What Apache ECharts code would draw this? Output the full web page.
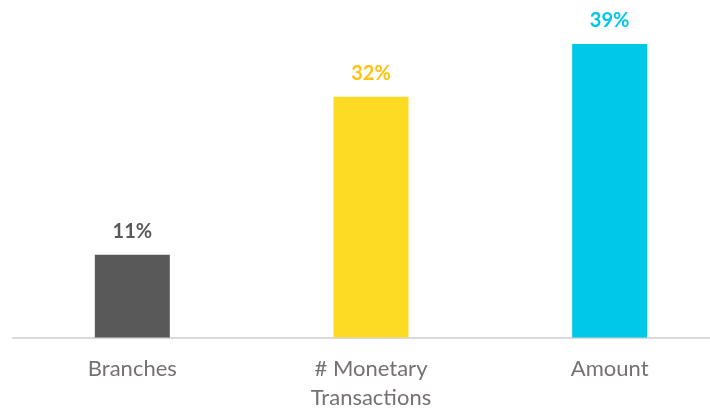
<!DOCTYPE html>
<html>
<head>
<meta charset="utf-8">
<script src="https://cdn.jsdelivr.net/npm/echarts@6/dist/echarts.min.js"></script>
<style>
  html, body { margin: 0; padding: 0; background: #ffffff; overflow: hidden; }
  #chart { width: 710px; height: 410px; }
</style>
</head>
<body>
<div id="chart"></div>
<script>
// Share of each metric
const categories = ['Branches', '# Monetary\nTransactions', 'Amount'];
const shares = [11, 32, 39];
const barColors = ['#595959', '#FDDB25', '#00C8E8'];
const labelColors = ['#595959', '#FFC20E', '#00C8E8'];

const chart = echarts.init(document.getElementById('chart'));

chart.setOption({
  animation: false,
  grid: {
    left: 13, top: 36.5, width: 716, height: 301,
    containLabel: false,
    outerBoundsMode: 'none'
  },
  xAxis: {
    type: 'category',
    data: categories,
    axisLine: { lineStyle: { color: '#D9D9D9', width: 2 } },
    axisTick: { show: false },
    axisLabel: {
      color: '#767171',
      fontFamily: 'Lato',
      fontSize: 22,
      lineHeight: 29,
      margin: 17,
      interval: 0
    }
  },
  yAxis: {
    type: 'value',
    min: 0,
    max: 40,
    show: false,
    splitLine: { show: false }
  },
  series: [{
    type: 'bar',
    barWidth: 75,
    data: shares.map((v, i) => ({
      value: v,
      itemStyle: { color: barColors[i] },
      label: { color: labelColors[i] }
    })),
    label: {
      show: true,
      position: 'top',
      distance: 13,
      formatter: '{c}%',
      fontFamily: 'Lato',
      fontWeight: 'bold',
      fontSize: 20
    }
  }]
});
</script>
</body>
</html>
